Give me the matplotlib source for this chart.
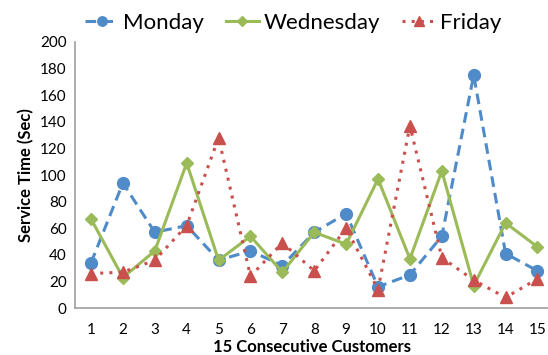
import matplotlib.pyplot as plt
import numpy as np

plt.rcParams['font.family'] = ['Lato', 'DejaVu Sans']

# Дані
customers = list(range(1, 16))
monday = [34, 94, 57, 62, 36, 43, 32, 57, 71, 16, 25, 54, 175, 41, 28]
wednesday = [67, 23, 43, 109, 36, 54, 27, 57, 48, 97, 37, 103, 17, 64, 46]
friday = [26, 27, 36, 62, 128, 24, 49, 28, 60, 14, 137, 38, 21, 8, 22]

fig = plt.figure(figsize=(5.48, 3.55), dpi=100)
ax = fig.add_axes([0.137, 0.132, 0.863, 0.75])

ax.plot(customers, monday, color='#4F8BC9', linestyle=(0, (3.5, 2)), linewidth=2.2,
        marker='o', markersize=8.5, label='Monday')
ax.plot(customers, wednesday, color='#9BBB59', linestyle='-', linewidth=2.2,
        marker='D', markersize=6, label='Wednesday')
ax.plot(customers, friday, color='#C9504D', linestyle=(0, (1, 2)), linewidth=2.2,
        marker='^', markersize=8.5, label='Friday')

ax.set_xlim(0.5, 15.33)
ax.set_ylim(0, 200)
ax.set_yticks(np.arange(0, 201, 20))
ax.set_xticks(customers)
ax.tick_params(axis='y', length=0, labelsize=11, pad=6)
ax.tick_params(axis='x', length=0, labelsize=11, pad=11)
for s in ['top', 'right']:
    ax.spines[s].set_visible(False)
for s in ['left', 'bottom']:
    ax.spines[s].set_color('#A0A0A0')
    ax.spines[s].set_linewidth(1.2)

ax.set_xlabel('15 Consecutive Customers', fontsize=12, fontweight='bold', labelpad=1)
ax.set_ylabel('Service Time (Sec)', fontsize=12, fontweight='bold')

fig.legend(loc='upper center', bbox_to_anchor=(0.535, 1.02), ncol=3, frameon=False,
           fontsize=16, handlelength=1.5, columnspacing=1.0, handletextpad=0.2,
           markerscale=0.8)

fig.savefig('out.png', dpi=100)
